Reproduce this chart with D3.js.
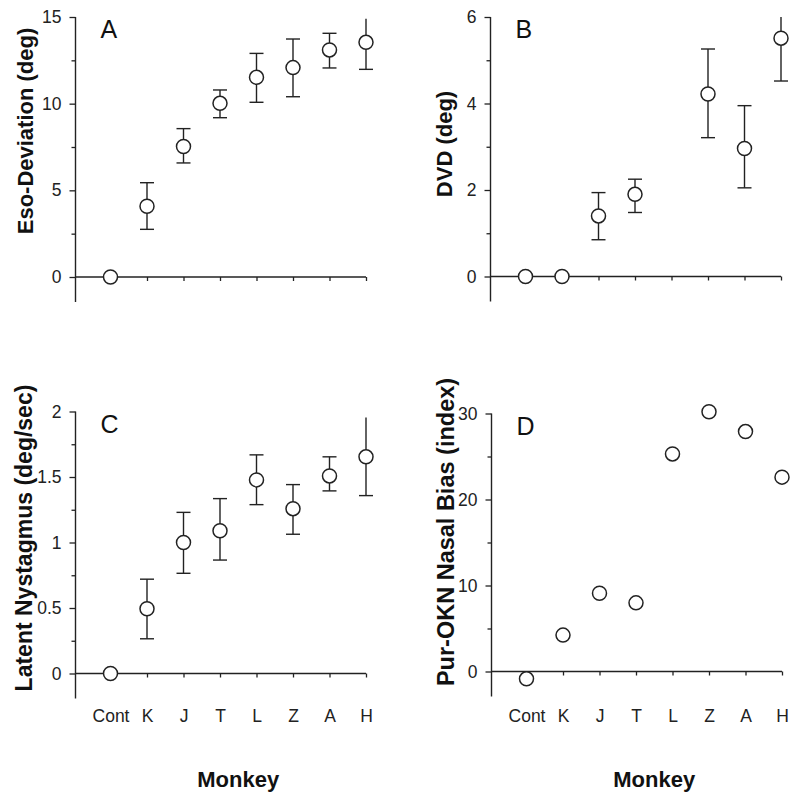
<!DOCTYPE html>
<html>
<head>
<meta charset="utf-8">
<script src="https://cdn.jsdelivr.net/npm/d3@7"></script>
<style>
  html, body { margin: 0; padding: 0; background: #fff; }
  svg { display: block; font-family: "Liberation Sans", Arial, sans-serif; }
</style>
</head>
<body>
<svg id="chart" width="800" height="800"></svg>
<script>
// ---- data ----
const categories = ["Cont", "K", "J", "T", "L", "Z", "A", "H"];

const esoMean  = [0, 4.08, 7.53, 10.02, 11.52, 12.08, 13.10, 13.54];
const esoUpper = [null, 5.44, 8.56, 10.79, 12.90, 13.73, 14.06, 14.90];
const esoLower = [null, 2.75, 6.58, 9.19, 10.08, 10.40, 12.06, 11.98];
const esoTicks = [0, 5, 10, 15];

const dvdMean  = [0, 0, 1.40, 1.90, null, 4.22, 2.96, 5.51];
const dvdUpper = [null, null, 1.94, 2.25, null, 5.26, 3.95, 6.00];
const dvdLower = [null, null, 0.85, 1.48, null, 3.21, 2.05, 4.52];
const dvdTicks = [0, 2, 4, 6];

const lnMean  = [0, 0.494, 1.00, 1.09, 1.478, 1.258, 1.508, 1.654];
const lnUpper = [null, 0.72, 1.23, 1.335, 1.669, 1.442, 1.654, 1.954];
const lnLower = [null, 0.265, 0.765, 0.866, 1.289, 1.063, 1.394, 1.358];
const lnTicks = [0, 0.5, 1, 1.5, 2];

const oknMean = [-0.85, 4.23, 9.10, 7.98, 25.3, 30.2, 27.9, 22.6];
const oknTicks = [0, 10, 20, 30];

// categories whose upper error bar runs off without a cap
const openTop = ["H"];

const panels = [
  { letter: "A", label: "Eso-Deviation (deg)", mean: esoMean, upper: esoUpper, lower: esoLower,
    ticks: esoTicks, axisX: 75.5, top: 17, zero: 277, labelX: 33, labelY: 131, labelSize: 22, showCats: false },
  { letter: "B", label: "DVD (deg)", mean: dvdMean, upper: dvdUpper, lower: dvdLower,
    ticks: dvdTicks, axisX: 490.5, top: 17, zero: 276.5, labelX: 452, labelY: 144, labelSize: 22, showCats: false },
  { letter: "C", label: "Latent Nystagmus (deg/sec)", mean: lnMean, upper: lnUpper, lower: lnLower,
    ticks: lnTicks, axisX: 75.5, top: 411.5, zero: 673.5, labelX: 32, labelY: 538, labelSize: 23, showCats: true },
  { letter: "D", label: "Pur-OKN Nasal Bias (index)", mean: oknMean, upper: null, lower: null,
    ticks: oknTicks, axisX: 491.5, top: 413.5, zero: 671.5, labelX: 454, labelY: 532, labelSize: 23.5, showCats: true }
];

const ink = "#222";
const svg = d3.select("#chart");

panels.forEach(p => {
  const g = svg.append("g");
  const tmax = p.ticks[p.ticks.length - 1];
  const y = d3.scaleLinear().domain([0, tmax]).range([p.zero, p.top]);
  const x = d3.scaleLinear().domain([0, categories.length - 1])
              .range([p.axisX + 35, p.axisX + 35 + 255.5]);
  const step = p.ticks[1] - p.ticks[0];
  const minor = p.ticks.slice(0, -1).map(t => t + step / 2);

  // y axis (left)
  const yAxis = d3.axisLeft(y).tickValues(p.ticks).tickSize(6).tickPadding(8)
                  .tickFormat(d3.format("~g"));
  const ya = g.append("g").attr("transform", `translate(${p.axisX},0)`).call(yAxis);
  ya.select(".domain").remove();
  ya.selectAll(".tick line").attr("stroke", ink).attr("stroke-width", 1.3);
  ya.selectAll(".tick text").attr("font-size", 17.5).attr("fill", ink)
    .attr("font-family", "'Liberation Sans', Arial, sans-serif");
  // minor ticks
  const ym = d3.axisLeft(y).tickValues(minor).tickSize(4).tickFormat("");
  const yma = g.append("g").attr("transform", `translate(${p.axisX},0)`).call(ym);
  yma.select(".domain").remove();
  yma.selectAll(".tick line").attr("stroke", ink).attr("stroke-width", 1.3);
  // y axis spine extends below zero
  g.append("line").attr("x1", p.axisX).attr("x2", p.axisX)
   .attr("y1", y(tmax)).attr("y2", y(0) + 25)
   .attr("stroke", ink).attr("stroke-width", 1.4);

  // x axis at zero
  g.append("line").attr("x1", p.axisX).attr("x2", x(categories.length - 1))
   .attr("y1", y(0)).attr("y2", y(0)).attr("stroke", ink).attr("stroke-width", 1.4);
  const xAxis = d3.axisBottom(x).tickValues(d3.range(categories.length)).tickSize(4)
                  .tickPadding(38).tickFormat(i => p.showCats ? categories[i] : "");
  const xa = g.append("g").attr("transform", `translate(0,${y(0)})`).call(xAxis);
  xa.select(".domain").remove();
  xa.selectAll(".tick line").attr("stroke", ink).attr("stroke-width", 1.3);
  xa.selectAll(".tick text").attr("font-size", 17.5).attr("fill", ink)
    .attr("dy", 0).attr("y", 722 - y(0))
    .attr("font-family", "'Liberation Sans', Arial, sans-serif");

  // panel letter
  g.append("text").attr("x", p.axisX + 25).attr("y", p.top + 21)
   .attr("font-size", 25).attr("fill", "#111").text(p.letter);

  // y label
  g.append("text")
   .attr("transform", `translate(${p.labelX},${p.labelY}) rotate(-90)`)
   .attr("text-anchor", "middle").attr("font-size", p.labelSize).attr("font-weight", "bold")
   .attr("fill", "#111").text(p.label);

  // x label
  if (p.showCats) {
    g.append("text").attr("x", (x(0) + x(categories.length - 1)) / 2)
     .attr("y", 787).attr("text-anchor", "middle")
     .attr("font-size", 22).attr("font-weight", "bold").attr("fill", "#111").text("Monkey");
  }

  // error bars
  const cap = 7;
  if (p.upper) {
    categories.forEach((c, i) => {
      if (p.mean[i] == null || p.upper[i] == null) return;
      const cx = x(i);
      g.append("line").attr("x1", cx).attr("x2", cx)
       .attr("y1", y(p.lower[i])).attr("y2", y(p.upper[i]))
       .attr("stroke", ink).attr("stroke-width", 1.4);
      if (!openTop.includes(c)) {
        g.append("line").attr("x1", cx - cap).attr("x2", cx + cap)
         .attr("y1", y(p.upper[i])).attr("y2", y(p.upper[i]))
         .attr("stroke", ink).attr("stroke-width", 1.4);
      }
      g.append("line").attr("x1", cx - cap).attr("x2", cx + cap)
       .attr("y1", y(p.lower[i])).attr("y2", y(p.lower[i]))
       .attr("stroke", ink).attr("stroke-width", 1.4);
    });
  }

  // points
  const pts = categories.map((c, i) => ({ i, v: p.mean[i] })).filter(d => d.v != null);
  g.selectAll("circle.pt").data(pts).enter().append("circle")
   .attr("class", "pt")
   .attr("cx", d => x(d.i)).attr("cy", d => y(d.v)).attr("r", 7)
   .attr("fill", "#fff").attr("stroke", ink).attr("stroke-width", 1.5);
});
</script>
</body>
</html>
